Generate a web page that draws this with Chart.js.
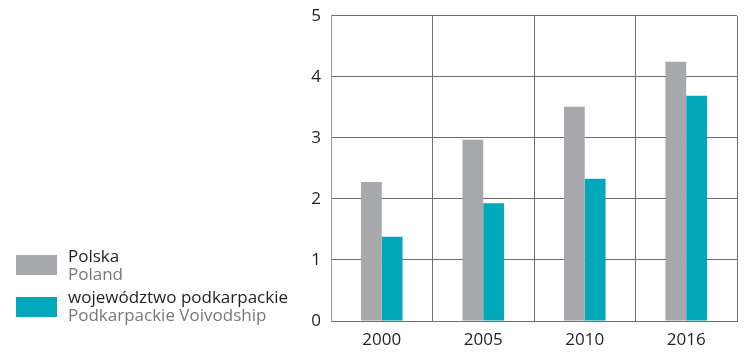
<!DOCTYPE html>
<html><head><meta charset="utf-8">
<script src="https://cdn.jsdelivr.net/npm/chart.js@4/dist/chart.umd.min.js"></script>
<style>
html,body{margin:0;padding:0;background:#fff;}
#wrap{position:relative;width:747px;height:352px;}
canvas{position:absolute;left:0;top:0;}
.lg{position:absolute;font-family:"Open Sans","DejaVu Sans",sans-serif;font-size:17px;line-height:18px;color:#231f20;white-space:nowrap;}
.lg .en{color:#77787b;}
.sw{position:absolute;width:41px;height:20px;}
</style></head>
<body>
<div id="wrap">
<canvas id="c" width="747" height="352"></canvas>
<div class="sw" style="left:16px;top:255px;background:#a7a8ab"></div>
<div class="lg" style="left:68px;top:247px">Polska<br><span class="en">Poland</span></div>
<div class="sw" style="left:16px;top:297px;background:#00a8ba"></div>
<div class="lg" style="left:68px;top:288px">województwo podkarpackie<br><span class="en">Podkarpackie Voivodship</span></div>
</div>
<script>
const categories = ["2000", "2005", "2010", "2016"];
const polska = [2.28, 2.97, 3.51, 4.25];
const podkarpackie = [1.38, 1.93, 2.33, 3.69];
const yTicks = [0, 1, 2, 3, 4, 5];

new Chart(document.getElementById('c'), {
  type: 'bar',
  data: {
    labels: categories,
    datasets: [
      {label: 'Polska', data: polska, backgroundColor: '#a7a8ab', categoryPercentage: 0.41, barPercentage: 1},
      {label: 'województwo podkarpackie', data: podkarpackie, backgroundColor: '#00a8ba', categoryPercentage: 0.41, barPercentage: 1}
    ]
  },
  options: {
    responsive: false,
    animation: false,
    devicePixelRatio: 1,
    layout: {padding: {top: 0, right: 10, left: 0, bottom: 0}},
    plugins: {legend: {display: false}, tooltip: {enabled: false}},
    scales: {
      x: {
        grid: {color: '#6d6e71', lineWidth: 1, drawTicks: false, offset: true},
        border: {color: '#6d6e71', width: 1},
        ticks: {color: '#231f20', font: {family: '"Open Sans","DejaVu Sans",sans-serif', size: 17}, padding: 9},
        afterFit: s => { s.height = 31; }
      },
      y: {
        min: 0, max: 5,
        afterBuildTicks: s => { s.ticks = yTicks.map(v => ({value: v})); },
        grid: {color: '#6d6e71', lineWidth: 1, drawTicks: false},
        border: {color: '#9a9b9e', width: 1},
        ticks: {color: '#231f20', font: {family: '"Open Sans","DejaVu Sans",sans-serif', size: 17, lineHeight: 0.7}, padding: 10},
        afterFit: s => { s.width = 331; }
      }
    }
  }
});
</script>
</body></html>
